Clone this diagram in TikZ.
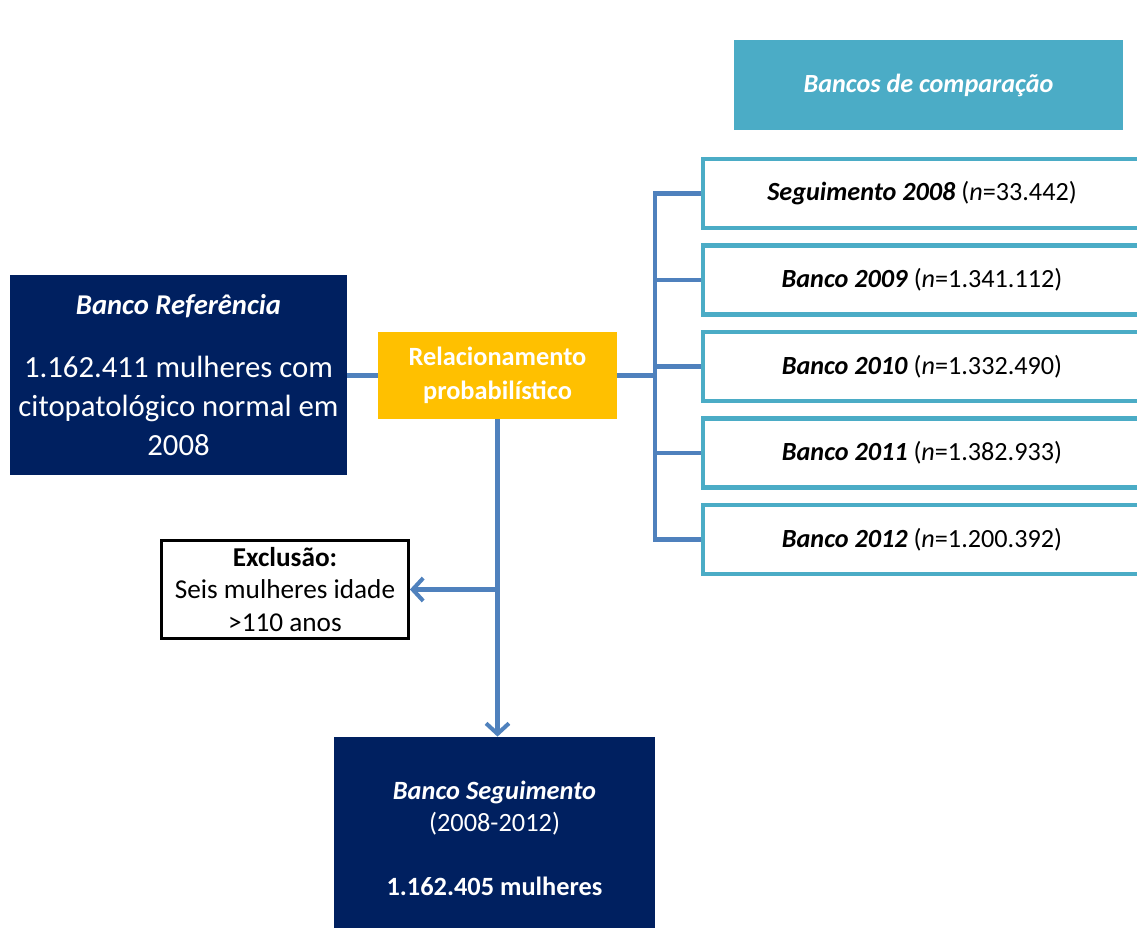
\documentclass[tikz,border=0pt]{standalone}
\usepackage{fontspec}
\setmainfont{Carlito}
\usepackage{tikz}
\usetikzlibrary{arrows.meta, positioning, calc}
\definecolor{mynavy}{RGB}{0,32,96}
\definecolor{mygold}{RGB}{255,192,0}
\definecolor{myteal}{RGB}{75,172,198}
\definecolor{mylink}{RGB}{79,129,189}
\tikzset{
  navybox/.style={rectangle, fill=mynavy, text=white, align=center,
    inner sep=0pt},
  goldbox/.style={rectangle, fill=mygold, text=white, align=center,
    inner sep=0pt, minimum width=4.78cm, minimum height=1.74cm,
    font=\fontsize{15}{19.5}\selectfont\bfseries},
  headbox/.style={rectangle, fill=myteal, text=white, align=center,
    inner sep=0pt, minimum width=7.78cm, minimum height=1.8cm,
    font=\fontsize{14.9}{17.5}\selectfont\bfseries\itshape},
  bancobox/.style={rectangle, draw=myteal, fill=white, line width=2.3pt,
    minimum width=8.76cm, minimum height=1.38cm, inner sep=0pt,
    font=\fontsize{14.9}{17}\selectfont},
  exclbox/.style={rectangle, draw=black, fill=white, line width=1.6pt,
    minimum width=4.94cm, minimum height=1.96cm, inner sep=0pt,
    align=center, font=\fontsize{15.5}{18.4}\selectfont},
  link/.style={line width=2.3pt, color=mylink},
  linkarrow/.style={link, -{Straight Barb[length=6pt, width=13pt]}}
}

\begin{document}
\begin{tikzpicture}
  \useasboundingbox (0,0) rectangle (22.74,18.56);

  % Banco Referencia
  \node[navybox, minimum width=6.74cm, minimum height=4.0cm,
        font=\fontsize{17.5}{22}\selectfont] (ref) at (3.57,11.06)
    {{\fontsize{16.3}{18}\selectfont\bfseries\itshape Banco Referência}\\[14pt]
     1.162.411 mulheres com\\ citopatológico normal em\\ 2008};

  % Relacionamento
  \node[goldbox] (relac) at (9.95,11.05) {Relacionamento\\ probabilístico};

  % Bancos de comparacao
  \node[headbox] (head) at (18.57,16.86) {Bancos de comparação};
  \node[bancobox] (b1) at (18.44,14.69)
    {\textbf{\textit{Seguimento 2008}} (\textit{n}=33.442)};
  \node[bancobox] (b2) at (18.44,12.96)
    {\textbf{\textit{Banco 2009}} (\textit{n}=1.341.112)};
  \node[bancobox] (b3) at (18.44,11.23)
    {\textbf{\textit{Banco 2010}} (\textit{n}=1.332.490)};
  \node[bancobox] (b4) at (18.44,9.50)
    {\textbf{\textit{Banco 2011}} (\textit{n}=1.382.933)};
  \node[bancobox] (b5) at (18.44,7.77)
    {\textbf{\textit{Banco 2012}} (\textit{n}=1.200.392)};

  % Exclusao
  \node[exclbox] (excl) at (5.7,6.77)
    {\textbf{Exclusão:}\\ Seis mulheres idade\\ >110 anos};

  % Banco Seguimento
  \node[navybox, minimum width=6.42cm, minimum height=4.04cm,
        font=\fontsize{15}{18.2}\selectfont] (seg) at (9.89,1.8)
    {\textbf{\textit{Banco Seguimento}}\\ (2008-2012)\\[18.2pt]
     \textbf{1.162.405 mulheres}};

  % connectors
  \coordinate (brk) at (13.1,11.05);
  \draw[link] (ref.east |- relac.west) -- (relac.west);
  \draw[link] (relac.east) -- (relac.east -| brk);
  \draw[link] (b1.west) -- (b1.west -| brk) -- (b5.west -| brk) -- (b5.west);
  \draw[link] (b2.west) -- (b2.west -| brk);
  \draw[link] (b3.west) -- (b3.west -| brk);
  \draw[link] (b4.west) -- (b4.west -| brk);

  \coordinate (split) at (relac.south |- excl.east);
  \draw[linkarrow] (relac.south) -- (relac.south |- seg.north);
  \draw[linkarrow] (split) -- (excl.east);
\end{tikzpicture}
\end{document}
